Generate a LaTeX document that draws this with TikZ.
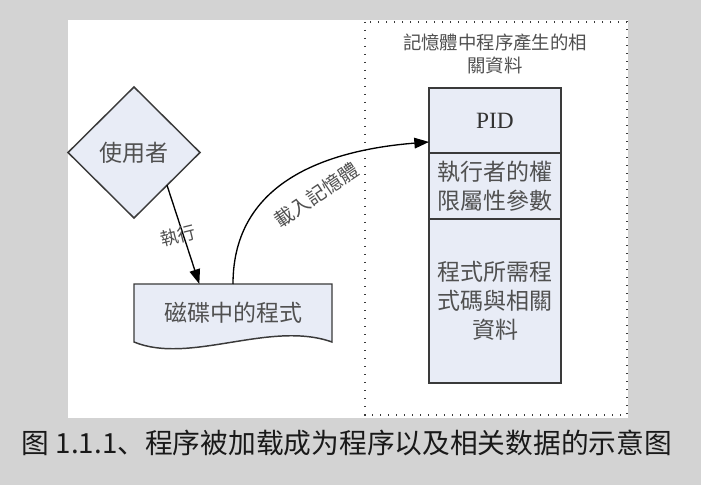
\documentclass[tikz,border=0pt]{standalone}
\usepackage{fontspec}
\setmainfont{Liberation Serif}
\newfontfamily\tcfont{Noto Sans CJK TC}
\newfontfamily\scfont{Noto Sans CJK SC}
\usetikzlibrary{shapes.geometric,positioning,calc,arrows.meta,backgrounds}
\definecolor{boxfill}{HTML}{E8ECF6}
\definecolor{boxline}{HTML}{3A3A3A}
\definecolor{txtgray}{HTML}{505050}
\definecolor{pagegray}{HTML}{D3D3D3}
\tikzset{
  flow/.style={draw=black,line width=1pt,-{Triangle[length=11pt,width=8pt]}},
  lbl/.style={text=txtgray,inner sep=1pt,font=\tcfont\fontsize{13.5}{16}\selectfont}
}
\begin{document}
\begin{tikzpicture}[x=0.75pt,y=-0.75pt]
  \useasboundingbox (0,0) rectangle (701,485);
  \begin{scope}[on background layer]
    \fill[pagegray] (0,0) rectangle (701,485);
    \fill[white] (68,20) rectangle (628,418);
  \end{scope}
  \draw[boxline,line width=1pt,dash pattern=on 1pt off 5pt] (365,22) rectangle (627,415);

  \node[lbl,align=center,font=\tcfont\fontsize{13.8}{17.25}\selectfont] (memtitle) at (495,54) {記憶體中程序產生的相\\關資料};

  \begin{scope}[every node/.style={draw=boxline,fill=boxfill,line width=1.1pt,text=txtgray,
      inner sep=0pt,outer sep=0pt,align=center,font=\tcfont\fontsize{17.25}{21.75}\selectfont}]
    \node[diamond,minimum width=99pt,minimum height=98.25pt] (user) at (134,152.5) {使用者};
    \node[draw=none,fill=none,minimum width=148.5pt,minimum height=43.5pt] (disk) at (233,313) {磁碟中的程式};

    \node[minimum width=99pt,minimum height=48.75pt,text=black!80,
      font=\fontsize{17.5}{21}\selectfont] (pid) at (495,120.5) {PID};
    \node[minimum width=99pt,minimum height=49.5pt,below=0pt of pid] (perm) {執行者的權\\限屬性參數};
    \node[minimum width=99pt,minimum height=123pt,below=0pt of perm] (code) {程式所需程\\式碼與相關\\資料};
  \end{scope}

  % document shape behind its text
  \begin{scope}[on background layer]
    \draw[boxline,fill=boxfill,line width=1.1pt] (disk.south west) -- (disk.north west)
      -- (disk.north east) -- (disk.south east)
      .. controls +(-62,-22) and +(56,23) .. (disk.south west) -- cycle;
  \end{scope}

  \coordinate (diskin) at ($(disk.north west)!0.33!(disk.north east)$);
  \coordinate (pidin) at ($(pid.north west)!0.83!(pid.south west)$);

  \draw[flow] (user.south east) -- (diskin);
  \node[lbl,rotate=14] (runlbl) at (178,236) {執行};

  \draw[flow] (disk.north) .. controls +(0,-104) and +(-99,8) .. (pidin);
  \node[lbl,rotate=34,font=\tcfont\fontsize{14.5}{17}\selectfont] (loadlbl) at (316,195) {載入記憶體};

  \node[inner sep=0pt,text=black!90,font=\scfont\fontsize{20.8}{24}\selectfont] (caption) at (347,443)
    {图 1.1.1、程序被加载成为程序以及相关数据的示意图};
\end{tikzpicture}
\end{document}
